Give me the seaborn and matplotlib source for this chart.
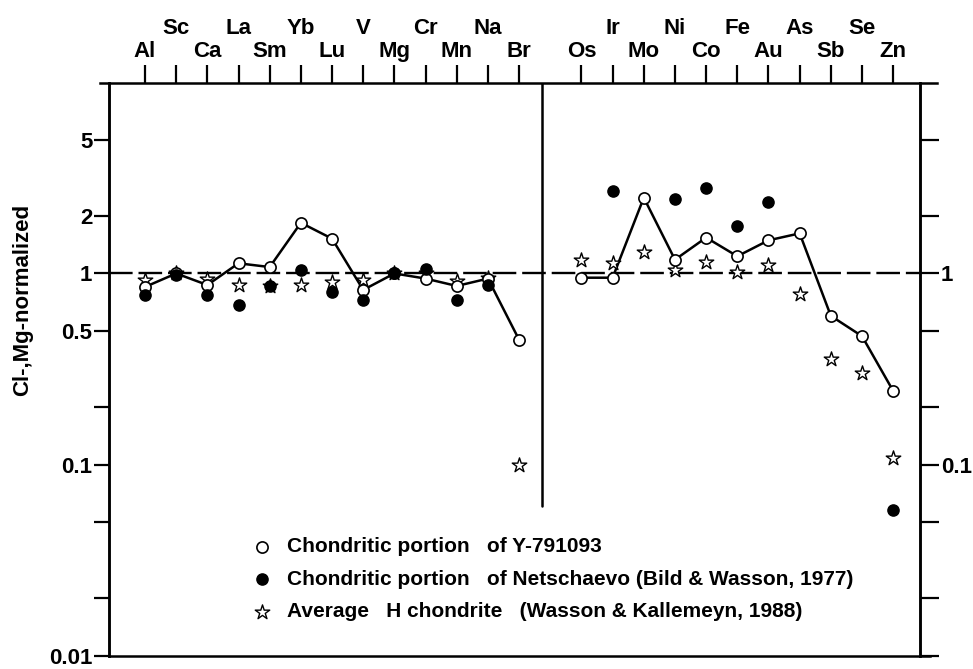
import numpy as np
import pandas as pd
import matplotlib
matplotlib.use("Agg")
import matplotlib.pyplot as plt
from matplotlib.ticker import NullLocator
import seaborn as sns

# Elements, in plotting order (lithophile block, then siderophile block)
lith_elements = ["Al", "Sc", "Ca", "La", "Sm", "Yb", "Lu", "V", "Mg", "Cr", "Mn", "Na", "Br"]
sid_elements = ["Os", "Ir", "Mo", "Ni", "Co", "Fe", "Au", "As", "Sb", "Se", "Zn"]

# CI-, Mg-normalized abundances
y791093_lith = [0.85, 1.00, 0.87, 1.13, 1.08, 1.84, 1.52, 0.82, 1.00, 0.94, 0.86, 0.94, 0.45]
y791093_sid = [0.95, 0.95, 2.49, 1.18, 1.54, 1.23, 1.49, 1.62, 0.60, 0.47, 0.243]

netschaevo_lith = [0.77, 0.98, 0.77, 0.68, 0.86, 1.04, 0.80, 0.73, 1.01, 1.06, 0.73, 0.87, np.nan]
netschaevo_sid = [np.nan, 2.70, np.nan, 2.46, 2.80, 1.76, 2.37, np.nan, np.nan, np.nan, 0.058]

hchond_lith = [0.92, 1.00, 0.94, 0.87, 0.86, 0.87, 0.90, 0.92, 1.00, 1.00, 0.91, 0.95, 0.10]
hchond_sid = [1.18, 1.13, 1.30, 1.04, 1.15, 1.02, 1.11, 0.78, 0.357, 0.30, 0.109]

lab_y791093 = "Chondritic portion   of Y-791093"
lab_netsch = "Chondritic portion   of Netschaevo (Bild & Wasson, 1977)"
lab_hchond = "Average   H chondrite   (Wasson & Kallemeyn, 1988)"

# ---- table ----
n_l, n_s = len(lith_elements), len(sid_elements)
pos = list(range(n_l)) + list(range(n_l + 1, n_l + 1 + n_s))
df = pd.DataFrame({
    "element": lith_elements + sid_elements,
    "block": ["lith"] * n_l + ["sid"] * n_s,
    "pos": pos,
    "y791093": y791093_lith + y791093_sid,
    "netschaevo": netschaevo_lith + netschaevo_sid,
    "hchond": hchond_lith + hchond_sid,
})

sns.set_theme(style="ticks")
plt.rcParams["font.family"] = ["Liberation Sans", "DejaVu Sans"]
plt.rcParams["font.weight"] = "bold"
for k in ("axes.edgecolor", "xtick.color", "ytick.color", "text.color", "axes.labelcolor"):
    plt.rcParams[k] = "black"

W, H = 973, 669
fig = plt.figure(figsize=(W / 100, H / 100), dpi=100)
fig.patch.set_facecolor("white")
ax_l, ax_r, ax_t, ax_b = 109, 920, 83, 656
ax = fig.add_axes([ax_l / W, 1 - ax_b / H, (ax_r - ax_l) / W, (ax_b - ax_t) / H])
ax.set_facecolor("white")

# connecting line for Y-791093, one segment per element block
sns.lineplot(data=df, x="pos", y="y791093", units="block", estimator=None,
             color="black", lw=1.8, sort=False, ax=ax, legend=False, zorder=2)
# unity reference
ax.axhline(1, color="black", lw=1.7, ls=(0, (10, 2.5)), zorder=1.5)

sns.scatterplot(data=df, x="pos", y="hchond", marker="*", s=120, color="white",
                edgecolor="black", linewidth=1.0, ax=ax, zorder=3, label=lab_hchond)
sns.scatterplot(data=df, x="pos", y="y791093", marker="o", s=65, color="white",
                edgecolor="black", linewidth=1.2, ax=ax, zorder=4, label=lab_y791093)
sns.scatterplot(data=df, x="pos", y="netschaevo", marker="o", s=65, color="black",
                edgecolor="black", linewidth=1.0, ax=ax, zorder=5, label=lab_netsch)

ax.set_yscale("log")
ymax = 9.9
ax.set_ylim(0.01, ymax)
ax.set_xlim(-1.155, 24.86)

# block divider
div_x = n_l - 0.25
ax.axvline(div_x, ymin=0.262, ymax=1, color="black", lw=1.8, zorder=1)

# y axis (left)
yt = [0.01, 0.02, 0.05, 0.1, 0.2, 0.5, 1, 2, 5]
ytl = ["0.01", "", "", "0.1", "", "0.5", "1", "2", "5"]
ax.set_yticks(yt)
ax.set_yticklabels(ytl)
ax.yaxis.set_minor_locator(NullLocator())
ax.tick_params(axis="y", direction="out", length=11, width=1.6, labelsize=16, pad=1)
ax.set_ylabel("Cl-,Mg-normalized", fontsize=16, fontweight="bold", color="black")
ax.yaxis.set_label_coords((33 - ax_l) / (ax_r - ax_l), (ax_b - 300) / (ax_b - ax_t))

# right axis
ax2 = ax.twinx()
ax2.set_yscale("log")
ax2.set_ylim(0.01, ymax)
ax2.set_yticks(yt)
ax2.set_yticklabels(["" if t not in ("1", "0.1") else t for t in ytl])
ax2.yaxis.set_minor_locator(NullLocator())
ax2.tick_params(axis="y", direction="out", length=14, width=1.6, labelsize=16, pad=1)
ax2.set_ylabel("")

# element axis on top, staggered labels
ax.set_xlabel("")
ax.xaxis.tick_top()
ax.set_xticks(df["pos"])
ax.set_xticklabels(df["element"])
ax.xaxis.set_minor_locator(NullLocator())
ax.tick_params(axis="x", direction="out", length=13, width=1.6, labelsize=16, pad=2,
               bottom=False, labelbottom=False)
for t, p in zip(ax.xaxis.get_major_ticks(), df["pos"]):
    if p % 2 == 1:
        t.set_pad(19)

for a in (ax, ax2):
    for sp in a.spines.values():
        sp.set_linewidth(1.8)
        sp.set_color("black")
        sp.set_visible(True)
ax.spines["top"].set_bounds(-1.44, 25.4)
ax.spines["bottom"].set_bounds(-1.155, 25.18)
ax2.spines["top"].set_visible(False)
ax2.spines["bottom"].set_visible(False)

# legend
h, l = ax.get_legend_handles_labels()
order = [lab_y791093, lab_netsch, lab_hchond]
hd = [h[l.index(o)] for o in order]
leg = ax.legend(hd, order, loc="upper left", bbox_to_anchor=(252 / W, 1 - 537 / H),
                bbox_transform=fig.transFigure, frameon=False,
                handlelength=1.0, handletextpad=0.7, labelspacing=0.65,
                borderpad=0, borderaxespad=0, prop={"weight": "bold", "size": 15})

fig.savefig("out.png", dpi=100, facecolor="white")
